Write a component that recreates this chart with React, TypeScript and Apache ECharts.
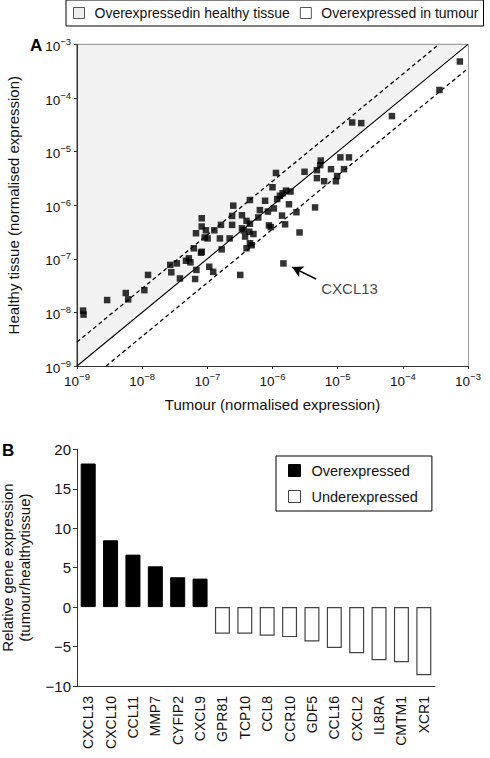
import React, { useEffect, useRef } from "react";
import * as echarts from "echarts";

// ---- Panel A data (normalised expression) ----
const tumour = [
  7.5e-4, 3.65e-4, 6.8e-5, 1.67e-5, 2.3e-5, 5.5e-6, 1.1e-5, 1.49e-5, 3.1e-6, 4.8e-6,
  5.4e-6, 7.9e-6, 1.25e-5, 4.8e-6, 6.2e-6, 9.4e-6, 9.8e-6, 4.5e-6, 2.6e-6, 1.47e-6,
  1.13e-6, 1.0e-6, 1.61e-6, 1.89e-6, 1.43e-6, 1.3e-6, 1.18e-6, 1.79e-6, 2.33e-6, 1.4e-6,
  1.56e-6, 4.5e-7, 7.7e-7, 6.4e-7, 8.5e-7, 1.05e-6, 2.5e-7, 6.05e-7, 4.0e-7, 3.4e-7,
  8.8e-7, 4.5e-7, 9.4e-7, 3.6e-7, 4.4e-7, 3.8e-7, 5.1e-7, 4.5e-7, 4.0e-7, 4.8e-7,
  2.2e-7, 1.66e-7, 1.56e-7, 1.28e-7, 9.5e-8, 1.01e-7, 8.2e-8, 8.2e-8, 8.2e-8, 1.07e-7,
  1.23e-7, 3.2e-7, 2.4e-7, 2.4e-7, 3.4e-7, 6.7e-8, 9.1e-8, 6.2e-8, 8.0e-8, 5.2e-8,
  5.5e-8, 4.7e-8, 3.4e-8, 2.7e-8, 2.8e-8, 1.23e-8, 3.8e-8, 6.8e-8, 6.5e-8, 5.6e-9,
  1.08e-8, 6.1e-9, 2.9e-9, 1.24e-9, 1.26e-9, 1.62e-7,
];
const healthy = [
  4.8e-4, 1.41e-4, 4.6e-5, 3.5e-5, 3.4e-5, 6.8e-6, 7.8e-6, 7.8e-6, 4.2e-6, 4.5e-6,
  5.6e-6, 4.7e-6, 4.7e-6, 3.2e-6, 2.8e-6, 2.8e-6, 3.5e-6, 9.1e-7, 3.1e-7, 8.2e-8,
  4.0e-6, 2.16e-6, 1.87e-6, 1.8e-6, 1.67e-6, 1.5e-6, 1.3e-6, 1.04e-6, 7.4e-7, 6.4e-7,
  4.4e-7, 1.25e-6, 1.21e-6, 8.1e-7, 7.6e-7, 8.7e-7, 9.8e-7, 5.9e-7, 5.1e-7, 6.5e-7,
  4.2e-7, 4.5e-7, 3.9e-7, 3.4e-7, 3.2e-7, 2.6e-7, 2.9e-7, 1.95e-7, 1.57e-7, 1.79e-7,
  2.4e-7, 1.5e-7, 2.4e-7, 3.4e-7, 3.4e-7, 2.4e-7, 4.0e-7, 5.7e-7, 1.35e-7, 7.1e-8,
  5.7e-8, 5.0e-8, 6.3e-7, 4.3e-7, 3.7e-7, 3.0e-7, 2.5e-7, 1.57e-7, 1.3e-7, 1.02e-7,
  8.6e-8, 9.2e-8, 8.2e-8, 7.7e-8, 5.6e-8, 5.0e-8, 4.3e-8, 6.2e-8, 4.2e-8, 2.3e-8,
  2.6e-8, 1.75e-8, 1.7e-8, 1.08e-8, 9.1e-9, 4.3e-7,
];
const AXIS_MIN = 1e-9;
const AXIS_MAX = 1e-3;
const FOLD = 2.8;
const annotLabel = "CXCL13";
const arrowFrom = [4.65e-6, 4.2e-8];
const arrowTo = [1.99e-6, 7.0e-8];
const labelAt = [5.5e-6, 2.85e-8];
const regionNames = ["Overexpressedin healthy tissue", "Overexpressed in tumour"];

// ---- Panel B data ----
const genes = [
  "CXCL13", "CXCL10", "CCL11", "MMP7", "CYFIP2", "CXCL9",
  "GPR81", "TCP10", "CCL8", "CCR10", "GDF5", "CCL16", "CXCL2", "IL8RA", "CMTM1", "XCR1",
];
const overValues = [18.2, 8.47, 6.65, 5.17, 3.78, 3.61];
const underValues = [-3.38, -3.38, -3.64, -3.8, -4.36, -5.17, -5.85, -6.74, -6.99, -8.64];
const barNames = ["Overexpressed", "Underexpressed"];

const FONT = "'Liberation Sans', Arial, Helvetica, sans-serif";

const supFormatter = (v: number) => {
  const e = Math.round(Math.log10(v));
  return `{b|10}{s|${e < 0 ? "\u2212" : ""}${Math.abs(e)}}`;
};
const supRich = {
  b: { fontSize: 13.5, fontFamily: FONT, color: "#111", verticalAlign: "bottom", lineHeight: 18 },
  s: { fontSize: 9.5, fontFamily: FONT, color: "#111", verticalAlign: "bottom", lineHeight: 18, padding: [0, 0, 7, 0] },
};

export default function App() {
  const ref = useRef<HTMLDivElement>(null);
  useEffect(() => {
    if (!ref.current) return;
    const chart = echarts.init(ref.current, undefined, { renderer: "svg" });
    const tri = (pts: number[][], fill: string) => (params: any, api: any) => ({
      type: "polygon",
      shape: { points: pts.map((p) => api.coord(p)) },
      style: { fill, stroke: "none" },
      silent: true,
    });
    const overData = genes.map((_, i) => (i < overValues.length ? overValues[i] : "-"));
    const underData = genes.map((_, i) => (i >= overValues.length ? underValues[i - overValues.length] : "-"));

    chart.setOption({
      animation: false,
      backgroundColor: "#fff",
      textStyle: { fontFamily: FONT },
      grid: [
        { left: 77, top: 44.4, width: 391, height: 321.6, show: true, borderColor: "#333", borderWidth: 1, backgroundColor: "#fff", outerBoundsMode: "none", containLabel: false },
        { left: 77, top: 449.3, width: 358, height: 236.7, outerBoundsMode: "none", containLabel: false },
      ],
      legend: [
        {
          data: [
            { name: regionNames[0], itemStyle: { color: "#eeeeee", borderColor: "#555", borderWidth: 1 } },
            { name: regionNames[1], itemStyle: { color: "#ffffff", borderColor: "#555", borderWidth: 1 } },
          ],
          left: 66, top: 0, width: 420, orient: "horizontal", icon: "rect",
          borderColor: "#000", borderWidth: 1, padding: [6, 5, 6, 7],
          itemWidth: 11, itemHeight: 11, itemGap: 10,
          textStyle: { fontSize: 14, color: "#111", fontFamily: FONT, padding: [0, 0, 0, 5] },
          selectedMode: false,
        },
        {
          data: [
            { name: barNames[0], itemStyle: { color: "#000", borderColor: "#000", borderWidth: 1 } },
            { name: barNames[1], itemStyle: { color: "#fff", borderColor: "#444", borderWidth: 1 } },
          ],
          left: 276, top: 456, orient: "vertical", icon: "rect",
          borderColor: "#000", borderWidth: 1, padding: [7, 14, 7, 12],
          itemWidth: 12, itemHeight: 12, itemGap: 11,
          textStyle: { fontSize: 14.5, color: "#111", fontFamily: FONT, padding: [0, 0, 0, 6] },
          selectedMode: false,
        },
      ],
      xAxis: [
        {
          type: "log", logBase: 10, gridIndex: 0, min: AXIS_MIN, max: AXIS_MAX, splitNumber: 6,
          name: "Tumour (normalised expression)", nameLocation: "middle", nameGap: 31,
          nameTextStyle: { fontSize: 15, color: "#111", fontFamily: FONT },
          axisLine: { lineStyle: { color: "#333" } },
          axisTick: { show: true, length: 3, lineStyle: { color: "#333" } },
          splitLine: { show: false }, minorTick: { show: false },
          axisLabel: { formatter: supFormatter, rich: supRich, margin: 4 },
        },
        {
          type: "category", gridIndex: 1, data: genes, position: "bottom",
          axisLine: { onZero: false, lineStyle: { color: "#333" } },
          axisTick: { show: false },
          axisLabel: { rotate: 90, fontSize: 14, color: "#111", margin: 10, interval: 0, fontFamily: FONT },
        },
      ],
      yAxis: [
        {
          type: "log", logBase: 10, gridIndex: 0, min: AXIS_MIN, max: AXIS_MAX, splitNumber: 6,
          name: "Healthy tissue (normalised expression)", nameLocation: "middle", nameGap: 56,
          nameTextStyle: { fontSize: 15, color: "#111", fontFamily: FONT },
          axisLine: { lineStyle: { color: "#333" } },
          axisTick: { show: true, length: 3, lineStyle: { color: "#333" } },
          splitLine: { show: false }, minorTick: { show: false },
          axisLabel: { formatter: supFormatter, rich: supRich, margin: 6 },
        },
        {
          type: "value", gridIndex: 1, min: -10, max: 20, interval: 5,
          name: "Relative gene expression\n(tumour/healthytissue)", nameLocation: "middle", nameGap: 44,
          nameTextStyle: { fontSize: 15, color: "#111", lineHeight: 17, fontFamily: FONT },
          axisLine: { show: true, lineStyle: { color: "#333" } },
          axisTick: { show: true, length: 4, lineStyle: { color: "#333" } },
          splitLine: { show: false },
          axisLabel: {
            fontSize: 15, color: "#111", margin: 6, fontFamily: FONT,
            formatter: (v: number) => (v < 0 ? "\u2212" + -v : String(v)),
          },
        },
      ],
      series: [
        {
          name: regionNames[0], type: "custom", xAxisIndex: 0, yAxisIndex: 0, z: 0,
          data: [[1e-6, 1e-6]], encode: { x: 0, y: 1 },
          itemStyle: { color: "#eeeeee" },
          renderItem: tri([[AXIS_MIN, AXIS_MIN], [AXIS_MIN, AXIS_MAX], [AXIS_MAX, AXIS_MAX]], "#f2f2f2"),
        },
        {
          name: regionNames[1], type: "custom", xAxisIndex: 0, yAxisIndex: 0, z: 0,
          data: [[1e-6, 1e-6]], encode: { x: 0, y: 1 },
          itemStyle: { color: "#ffffff" },
          renderItem: tri([[AXIS_MIN, AXIS_MIN], [AXIS_MAX, AXIS_MIN], [AXIS_MAX, AXIS_MAX]], "#ffffff"),
        },
        {
          name: "equal", type: "line", xAxisIndex: 0, yAxisIndex: 0, z: 2, symbol: "none", silent: true,
          data: [[AXIS_MIN, AXIS_MIN], [AXIS_MAX, AXIS_MAX]],
          lineStyle: { color: "#000", width: 1.1 },
        },
        {
          name: "upper", type: "line", xAxisIndex: 0, yAxisIndex: 0, z: 2, symbol: "none", silent: true,
          data: [[AXIS_MIN, AXIS_MIN * FOLD], [AXIS_MAX / FOLD, AXIS_MAX]],
          lineStyle: { color: "#000", width: 1.3, type: [4, 3] },
        },
        {
          name: "lower", type: "line", xAxisIndex: 0, yAxisIndex: 0, z: 2, symbol: "none", silent: true,
          data: [[AXIS_MIN * FOLD, AXIS_MIN], [AXIS_MAX, AXIS_MAX / FOLD]],
          lineStyle: { color: "#000", width: 1.3, type: [4, 3] },
        },
        {
          name: "genes", type: "scatter", xAxisIndex: 0, yAxisIndex: 0, z: 5,
          symbol: "rect", symbolSize: 6.5, itemStyle: { color: "#000" },
          data: tumour.map((t, i) => [t, healthy[i]]),
          markLine: {
            silent: true, symbol: ["none", "arrow"], symbolSize: [9, 11],
            lineStyle: { color: "#000", width: 1.6, type: "solid" },
            label: { show: false },
            data: [[{ coord: arrowFrom }, { coord: arrowTo }]],
          },
        },
        {
          name: "annot", type: "scatter", xAxisIndex: 0, yAxisIndex: 0, z: 5, silent: true,
          symbolSize: 1, itemStyle: { color: "rgba(0,0,0,0)" },
          data: [labelAt],
          label: { show: true, position: "right", distance: 0, formatter: annotLabel, fontSize: 15, color: "#111", fontFamily: FONT },
        },
        {
          name: barNames[0], type: "bar", xAxisIndex: 1, yAxisIndex: 1, barWidth: 15, barGap: "-100%",
          data: overData, itemStyle: { color: "#000", borderColor: "#000", borderWidth: 1 },
        },
        {
          name: barNames[1], type: "bar", xAxisIndex: 1, yAxisIndex: 1, barWidth: 15, barGap: "-100%",
          data: underData, itemStyle: { color: "#fff", borderColor: "#444", borderWidth: 1.2 },
        },
      ],
      graphic: [
        { type: "text", left: 30, top: 37, style: { text: "A", font: `bold 17px ${FONT}`, fill: "#000" } },
        { type: "text", left: 2, top: 442, style: { text: "B", font: `bold 17px ${FONT}`, fill: "#000" } },
      ],
    });
    return () => chart.dispose();
  }, []);
  return <div ref={ref} style={{ position: "fixed", left: 0, top: 0, width: 490, height: 758 }} />;
}
